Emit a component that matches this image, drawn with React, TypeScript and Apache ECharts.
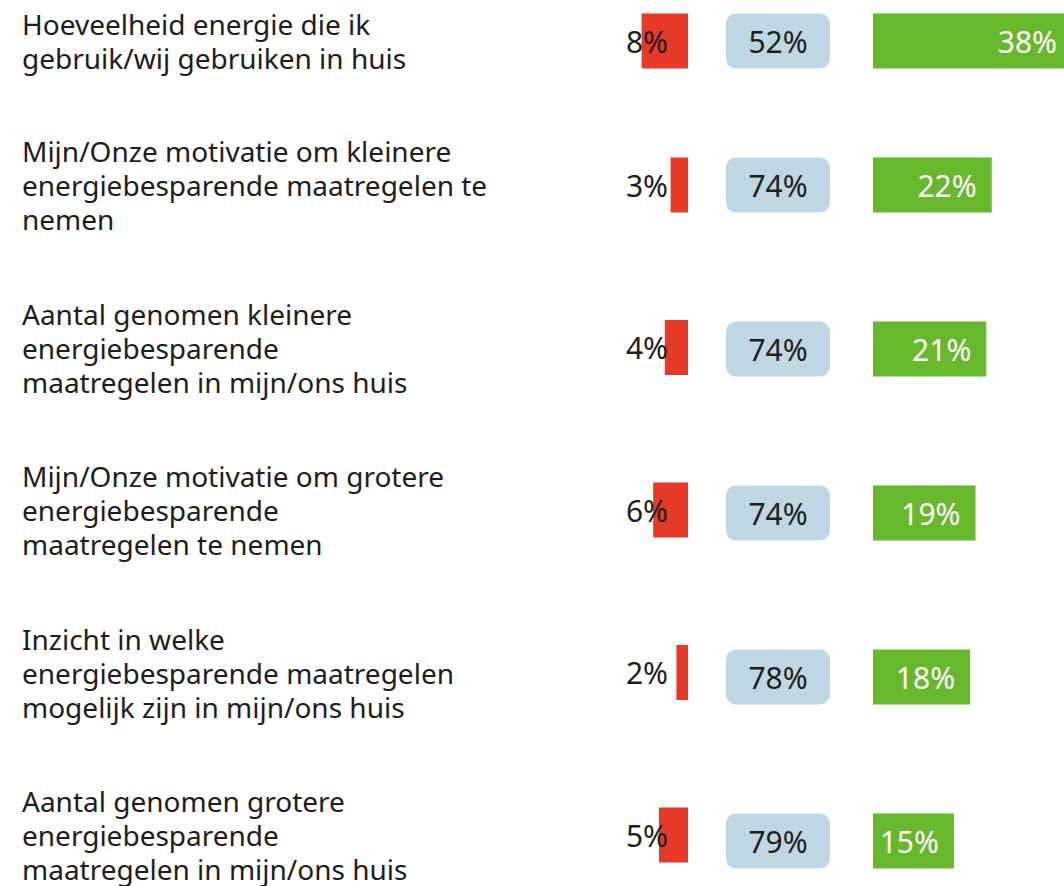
import React, { useEffect, useRef } from "react";
import * as echarts from "echarts";

const categories = [
  "Hoeveelheid energie die ik\ngebruik/wij gebruiken in huis",
  "Mijn/Onze motivatie om kleinere\nenergiebesparende maatregelen te\nnemen",
  "Aantal genomen kleinere\nenergiebesparende\nmaatregelen in mijn/ons huis",
  "Mijn/Onze motivatie om grotere\nenergiebesparende\nmaatregelen te nemen",
  "Inzicht in welke\nenergiebesparende maatregelen\nmogelijk zijn in mijn/ons huis",
  "Aantal genomen grotere\nenergiebesparende\nmaatregelen in mijn/ons huis",
];
const decreased = [8, 3, 4, 6, 2, 5];
const unchanged = [52, 74, 74, 74, 78, 79];
const increased = [38, 22, 21, 19, 18, 15];

const FONT = "'Noto Sans', 'Open Sans', sans-serif";
const TEXT = "#1d1d1b";
const RED = "#E43A27";
const BLUE = "#BED8E3";
const GREEN = "#68B82E";
const GREEN_MAX = 35.4;
const ROUND_BOX =
  "path://M10,0H94A10,10 0 0 1 104,10V45A10,10 0 0 1 94,55H10A10,10 0 0 1 0,45V10A10,10 0 0 1 10,0Z";

export default function App() {
  const ref = useRef<HTMLDivElement>(null);
  useEffect(() => {
    if (!ref.current) return;
    const chart = echarts.init(ref.current, undefined, { renderer: "svg" });
    const groups = [
      { idx: [0], top: 11, height: 60, gap: true },
      { idx: [1, 2, 3, 4, 5], top: 185, height: 656, gap: false },
    ];
    const grid: any[] = [];
    const xAxis: any[] = [];
    const yAxis: any[] = [];
    const series: any[] = [];
    groups.forEach((g, gi) => {
      const cats = g.idx.map((i) => categories[i]);
      const base = gi * 3;
      grid.push({ left: 572, width: 116, top: g.top, height: g.height });
      grid.push({ left: 726, width: 104, top: g.top, height: g.height });
      grid.push({ left: 873, width: 191, top: g.top, height: g.height });
      xAxis.push({ gridIndex: base, type: "value", min: 0, max: 20, inverse: true, show: false });
      xAxis.push({ gridIndex: base + 1, type: "value", min: 0, max: 1, show: false });
      xAxis.push({ gridIndex: base + 2, type: "value", min: 0, max: GREEN_MAX, show: false });
      yAxis.push({
        gridIndex: base,
        type: "category",
        data: cats,
        inverse: true,
        boundaryGap: g.gap,
        axisLine: { show: false, onZero: false },
        axisTick: { show: false },
        splitLine: { show: false },
        axisLabel: {
          align: "left",
          margin: 550,
          fontSize: 28,
          lineHeight: 34,
          color: TEXT,
          fontFamily: FONT,
        },
      });
      yAxis.push({ gridIndex: base + 1, type: "category", data: cats, inverse: true, boundaryGap: g.gap, show: false });
      yAxis.push({ gridIndex: base + 2, type: "category", data: cats, inverse: true, boundaryGap: g.gap, show: false });
      series.push({
        type: "bar",
        xAxisIndex: base,
        yAxisIndex: base,
        data: g.idx.map((i) => decreased[i]),
        barWidth: 55,
        itemStyle: { color: RED },
        label: {
          show: true,
          position: "insideRight",
          distance: 20,
          formatter: "{c}%",
          color: TEXT,
          fontSize: 30,
          fontFamily: FONT,
        },
      });
      series.push({
        type: "scatter",
        xAxisIndex: base + 1,
        yAxisIndex: base + 1,
        data: g.idx.map((i, k) => [0.5, k]),
        symbol: ROUND_BOX,
        symbolKeepAspect: false,
        symbolSize: [104, 55],
        itemStyle: { color: BLUE, opacity: 1 },
        label: {
          show: true,
          position: "inside",
          formatter: (p: any) => unchanged[g.idx[p.dataIndex]] + "%",
          color: TEXT,
          fontSize: 30,
          fontFamily: FONT,
        },
      });
      series.push({
        type: "bar",
        xAxisIndex: base + 2,
        yAxisIndex: base + 2,
        data: g.idx.map((i) =>
          increased[i] > GREEN_MAX
            ? { value: increased[i], label: { distance: 7 } }
            : increased[i]
        ),
        barWidth: 55,
        itemStyle: { color: GREEN },
        label: {
          show: true,
          position: "insideRight",
          distance: 15,
          formatter: "{c}%",
          color: "#ffffff",
          fontSize: 30,
          fontFamily: FONT,
        },
      });
    });
    chart.setOption({
      animation: false,
      textStyle: { fontFamily: FONT },
      grid,
      xAxis,
      yAxis,
      series,
    });
    return () => chart.dispose();
  }, []);
  return (
    <div
      ref={ref}
      style={{ position: "fixed", left: 0, top: 0, width: 1064, height: 886, background: "#fff" }}
    />
  );
}
